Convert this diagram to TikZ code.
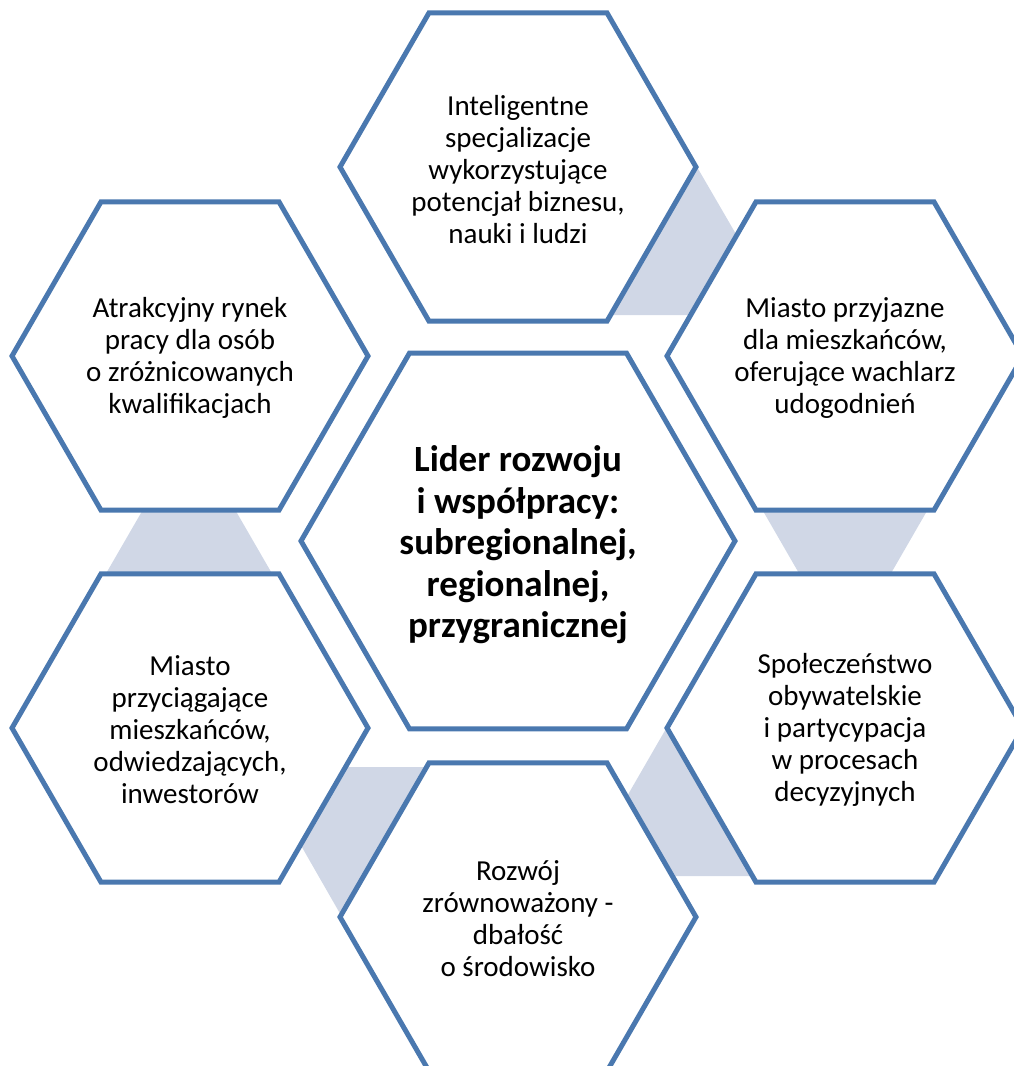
\documentclass[tikz,border=0pt]{standalone}
\usepackage{fontspec}
\setmainfont{Carlito}
\definecolor{hexblue}{RGB}{74,120,175}
\definecolor{bandgray}{RGB}{208,215,230}
\newcommand{\hexshape}[2]{\draw[hexline] (#1) ++(0:#2) -- ++(120:#2) -- ++(180:#2) -- ++(240:#2) -- ++(300:#2) -- ++(0:#2) -- cycle;}
\begin{document}
\begin{tikzpicture}[x=1pt,y=-1pt,
  hexline/.style={draw=hexblue,line width=5pt,fill=white,line join=miter},
  band/.style={fill=bandgray},
  txt/.style={align=center,font=\fontsize{29}{32}\selectfont,text=black,inner sep=0pt},
  ctxt/.style={align=center,font=\fontsize{37}{41.5}\selectfont\bfseries,text=black,inner sep=0pt}]
\useasboundingbox (0,0) rectangle (1013,1066);
% connecting bands
\fill[band] (697,167) -- (611,315) -- (783,315) -- cycle;
\fill[band] (759,504) -- (931,504) -- (845,653) -- cycle;
\fill[band] (667,727) -- (581,876) -- (753,876) -- cycle;
\fill[band] (256,767) -- (428,767) -- (342,917) -- cycle;
\fill[band] (189,430) -- (104,577) -- (274,577) -- cycle;
% hexagons
\hexshape{518,167}{178}
\hexshape{190,356}{178}
\hexshape{845,356}{178}
\hexshape{518,541}{217}
\hexshape{190,728}{178}
\hexshape{845,728}{178}
\hexshape{518,917}{178}
% texts
\node[txt] (ttop) at (518,170) {Inteligentne\\specjalizacje\\wykorzystujące\\potencjał biznesu,\\nauki i ludzi};
\node[txt] (ttl) at (190,358) {Atrakcyjny rynek\\pracy dla osób\\o zróżnicowanych\\kwalifikacjach};
\node[txt] (ttr) at (845,358) {Miasto przyjazne\\dla mieszkańców,\\oferujące wachlarz\\udogodnień};
\node[ctxt] (tc) at (518,545) {Lider rozwoju\\i współpracy:\\subregionalnej,\\regionalnej,\\przygranicznej};
\node[txt] (tbl) at (190,730) {Miasto\\przyciągające\\mieszkańców,\\odwiedzających,\\inwestorów};
\node[txt] (tbr) at (845,730) {Społeczeństwo\\obywatelskie\\i partycypacja\\w procesach\\decyzyjnych};
\node[txt] (tb) at (518,919) {Rozwój\\zrównoważony -\\dbałość\\o środowisko};
\end{tikzpicture}
\end{document}
